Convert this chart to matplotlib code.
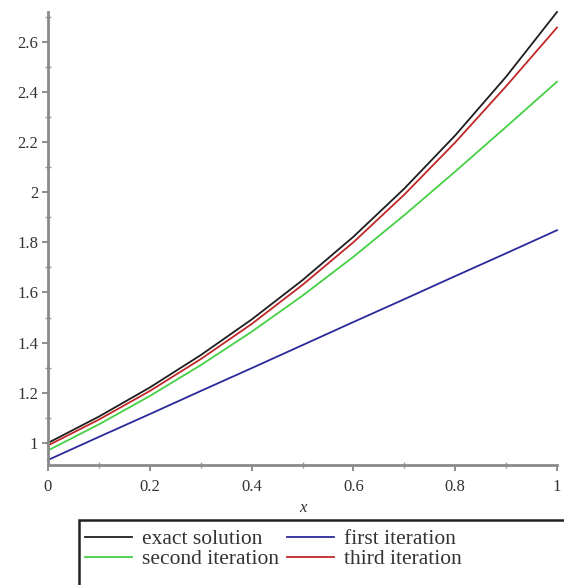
import matplotlib
matplotlib.use("Agg")
import matplotlib.pyplot as plt
from matplotlib.patches import Rectangle
from matplotlib.ticker import MultipleLocator, FixedLocator

# Data
x_vals = [0.0, 0.1, 0.2, 0.3, 0.4, 0.5, 0.6, 0.7, 0.8, 0.9, 1.0]
exact_solution = [1.000, 1.105, 1.221, 1.350, 1.492, 1.649, 1.822, 2.014, 2.226, 2.460, 2.718]
first_iteration = [0.932, 1.024, 1.115, 1.207, 1.298, 1.390, 1.482, 1.573, 1.665, 1.756, 1.848]
second_iteration = [0.970, 1.074, 1.187, 1.310, 1.443, 1.587, 1.742, 1.908, 2.082, 2.260, 2.440]
third_iteration = [0.990, 1.093, 1.207, 1.334, 1.474, 1.630, 1.800, 1.990, 2.198, 2.422, 2.656]

series_labels = ["exact solution", "first iteration", "second iteration", "third iteration"]
x_ticks = [0, 0.2, 0.4, 0.6, 0.8, 1.0]
x_tick_labels = ["0", "0.2", "0.4", "0.6", "0.8", "1"]
y_ticks = [1.0, 1.2, 1.4, 1.6, 1.8, 2.0, 2.2, 2.4, 2.6]
y_tick_labels = ["1", "1.2", "1.4", "1.6", "1.8", "2", "2.2", "2.4", "2.6"]

W, H = 564, 585
fig = plt.figure(figsize=(W / 100, H / 100), dpi=100)
serif = "Liberation Serif"

ax = fig.add_axes([48 / W, 1 - 465 / H, (557 - 48) / W, (465 - 12) / H])

colors = ["#1e1e1e", "#2a2a9a", "#45d045", "#c02828"]
series = [exact_solution, first_iteration, second_iteration, third_iteration]
lines = {}
for lab, ys, c in zip(series_labels, series, colors):
    (ln,) = ax.plot(x_vals, ys, color=c, lw=1.3, label=lab, clip_on=False)
    lines[lab] = ln

ax.set_xlim(0, 1)
ax.set_ylim(0.912, 2.718)

for s in ["top", "right"]:
    ax.spines[s].set_visible(False)
for s in ["left", "bottom"]:
    ax.spines[s].set_color("#8a8a8a")
    ax.spines[s].set_linewidth(2.0)

ax.xaxis.set_major_locator(FixedLocator(x_ticks))
ax.set_xticklabels(x_tick_labels)
ax.yaxis.set_major_locator(FixedLocator(y_ticks))
ax.set_yticklabels(y_tick_labels)
ax.xaxis.set_minor_locator(MultipleLocator(0.1))
ax.yaxis.set_minor_locator(MultipleLocator(0.1))

ax.tick_params(which="major", direction="out", length=4, width=1.2, color="#7a7a7a",
               labelsize=12, labelcolor="#333333", pad=3)
ax.tick_params(which="minor", direction="inout", length=4, width=1.0, color="#9a9a9a")
for lbl in ax.get_xticklabels() + ax.get_yticklabels():
    lbl.set_fontfamily(serif)
ax.tick_params(axis="x", which="major", pad=6)

fig.text(303 / W, 1 - 508 / H, "x", fontfamily=serif, fontstyle="italic", fontsize=12,
         color="#333333", ha="center", va="center")

# legend frame (extends past bottom/right edge)
rect = Rectangle((79 / W, -0.05), 1.05 - 79 / W, (1 - 520 / H) + 0.05,
                 transform=fig.transFigure, fill=False, edgecolor="#222222", lw=1.8)
fig.add_artist(rect)

handles = [lines[series_labels[0]], lines[series_labels[1]],
           lines[series_labels[2]], lines[series_labels[3]]]
order = [0, 2, 1, 3]
leg = fig.legend([handles[i] for i in order], [series_labels[i] for i in order],
                 loc="upper left", bbox_to_anchor=(85 / W, 1 - 529 / H), ncol=2,
                 frameon=False, prop={"family": serif, "size": 15.5},
                 handlelength=2.2, handletextpad=0.45, columnspacing=0.35,
                 labelspacing=0.0, borderpad=0.0, borderaxespad=0.0)
for t in leg.get_texts():
    t.set_color("#333333")

fig.savefig("out.png", dpi=100)
